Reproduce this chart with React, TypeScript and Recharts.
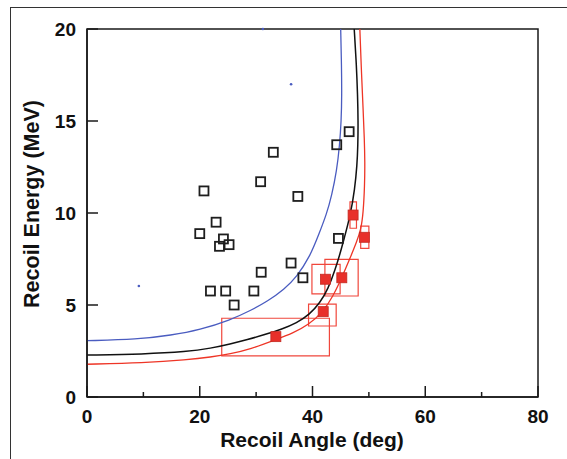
import { ComposedChart, Line, Scatter, ReferenceArea, XAxis, YAxis } from 'recharts';

// open squares (angle deg, energy MeV)
const openAngle = [33.05, 30.8, 20.75, 37.4, 22.9, 20.0, 24.2, 23.5, 25.2, 36.2, 30.9, 38.3, 21.9, 24.6, 29.6, 26.1, 46.5, 44.3, 44.6];
const openEnergy = [13.3, 11.7, 11.2, 10.9, 9.5, 8.88, 8.59, 8.19, 8.28, 7.28, 6.78, 6.48, 5.76, 5.76, 5.76, 5.0, 14.42, 13.71, 8.62];

// filled squares with error boxes
const fillAngle = [33.5, 41.9, 42.3, 45.2, 47.2, 49.2];
const fillEnergy = [3.28, 4.64, 6.4, 6.48, 9.89, 8.68];
const boxAngleLo = [23.9, 39.3, 39.9, 42.2, 46.65, 48.55];
const boxAngleHi = [43.0, 44.2, 44.9, 48.1, 47.8, 50.0];
const boxEnergyLo = [2.24, 3.86, 5.6, 5.49, 9.17, 8.08];
const boxEnergyHi = [4.28, 5.05, 7.21, 7.48, 10.61, 9.29];

// stray small dots
const dotAngle = [36.2, 9.2, 31.2];
const dotEnergy = [17.0, 6.03, 20.0];

// kinematic curves
const blueAngle = [0, 8.9, 15, 20, 25.4, 29.2, 32, 35, 37.2, 39.5, 41.2, 42.5, 43.4, 44.3, 44.8, 45.1, 45.2, 45.15, 45.0];
const blueEnergy = [3.06, 3.13, 3.36, 3.65, 4.18, 4.73, 5.2, 5.85, 6.54, 7.6, 8.9, 9.95, 10.94, 12.3, 13.66, 15.0, 16.4, 18.0, 20.0];
const blackAngle = [0, 10, 17.7, 22, 25.4, 28.5, 31.3, 34.5, 37.2, 39.5, 41.3, 42.8, 44.0, 44.9, 45.6, 46.7, 47.5, 47.9, 48.05, 48.1, 48.0, 47.8, 47.4];
const blackEnergy = [2.28, 2.33, 2.46, 2.65, 2.88, 3.12, 3.37, 3.68, 4.02, 4.5, 5.1, 5.9, 6.9, 7.8, 8.6, 9.85, 11.3, 12.6, 13.66, 15.0, 16.4, 18.0, 20.0];
const redAngle = [0, 10, 17.7, 22, 25.4, 29, 33.5, 36.5, 39.3, 41.9, 43.6, 45.2, 46.6, 47.8, 48.6, 49.0, 49.25, 49.3, 49.2, 49.0, 48.7, 48.4];
const redEnergy = [1.78, 1.86, 2.02, 2.17, 2.34, 2.6, 3.12, 3.47, 3.92, 4.64, 5.45, 6.48, 7.5, 8.4, 9.1, 10.0, 11.5, 12.76, 14.0, 15.5, 17.5, 20.0];

const xTicks = [0, 10, 20, 30, 40, 50, 60, 70, 80];
const yTicks = [0, 5, 10, 15, 20];

const pts = (xs: number[], ys: number[]) => xs.map((x, i) => ({ x, y: ys[i] }));

const openData = pts(openAngle, openEnergy);
const fillData = pts(fillAngle, fillEnergy);
const dotData = pts(dotAngle, dotEnergy);
const blueData = pts(blueAngle, blueEnergy);
const blackData = pts(blackAngle, blackEnergy);
const redData = pts(redAngle, redEnergy);

const FONT = '"Liberation Sans", Arial, Helvetica, sans-serif';
const AX = '#1a1a1a';

const XTick = (p: any) => {
  const v = p.payload.value;
  const major = v % 20 === 0;
  return (
    <g>
      <line x1={p.x} x2={p.x} y1={p.y} y2={p.y - (major ? 11 : 5)} stroke={AX} strokeWidth={1.5} />
      {major && (
        <text x={p.x} y={p.y + 26} textAnchor="middle" fontSize={19} fontWeight="bold" fontFamily={FONT} fill="#111">
          {v}
        </text>
      )}
    </g>
  );
};

const YTick = (p: any) => {
  const v = p.payload.value;
  return (
    <g>
      <line x1={p.x} x2={p.x + 11} y1={p.y} y2={p.y} stroke={AX} strokeWidth={1.5} />
      <text x={p.x - 11} y={p.y + 7} textAnchor="end" fontSize={19} fontWeight="bold" fontFamily={FONT} fill="#111">
        {v}
      </text>
    </g>
  );
};

const OpenSquare = (p: any) => (
  <rect x={p.cx - 4.5} y={p.cy - 4.5} width={9} height={9} fill="none" stroke="#1e1e1e" strokeWidth={1.8} />
);

const FilledSquare = (p: any) => (
  <rect x={p.cx - 5} y={p.cy - 5} width={10} height={10} fill="#e8302a" stroke="#c42a22" strokeWidth={0.8} />
);

const Dot = (p: any) => <circle cx={p.cx} cy={p.cy} r={1.3} fill="#4a5cc0" />;

export default function App() {
  return (
    <div style={{ position: 'absolute', left: 0, top: 0, width: 567, height: 459, background: '#fff' }}>
      <div
        style={{
          position: 'absolute',
          left: 10,
          top: 7,
          width: 557,
          height: 452,
          borderTop: '1.5px solid #333',
          borderLeft: '1.5px solid #333',
          boxSizing: 'border-box',
        }}
      />
      <ComposedChart width={567} height={459} margin={{ top: 29, right: 29, left: 0, bottom: 0 }} style={{ position: 'absolute', left: 0, top: 0 }}>
        <XAxis
          type="number"
          dataKey="x"
          domain={[0, 80]}
          ticks={xTicks}
          interval={0}
          height={62}
          tickSize={0}
          tickMargin={0}
          tickLine={false}
          axisLine={{ stroke: AX, strokeWidth: 1.5 }}
          tick={<XTick />}
          label={{
            content: () => (
              <text x={312} y={447} textAnchor="middle" fontSize={21} fontWeight="bold" fontFamily={FONT} fill="#111">
                Recoil Angle (deg)
              </text>
            ),
          }}
        />
        <YAxis
          type="number"
          dataKey="y"
          domain={[0, 20]}
          ticks={yTicks}
          interval={0}
          width={87}
          tickSize={0}
          tickMargin={0}
          tickLine={false}
          axisLine={{ stroke: AX, strokeWidth: 1.5 }}
          tick={<YTick />}
          label={{
            content: () => (
              <text
                x={39}
                y={204}
                textAnchor="middle"
                fontSize={21.5}
                fontWeight="bold"
                fontFamily={FONT}
                fill="#111"
                transform="rotate(-90 39 204)"
              >
                Recoil Energy (MeV)
              </text>
            ),
          }}
        />
        <ReferenceArea x1={0} x2={80} y1={0} y2={20} fill="none" stroke={AX} strokeWidth={1.5} />
        {boxAngleLo.map((lo, i) => (
          <ReferenceArea
            key={i}
            x1={lo}
            x2={boxAngleHi[i]}
            y1={boxEnergyLo[i]}
            y2={boxEnergyHi[i]}
            fill="none"
            stroke="#f0473c"
            strokeWidth={1.2}
          />
        ))}
        <Line data={blueData} dataKey="y" type="basis" stroke="#4a5cc0" strokeWidth={1.3} dot={false} isAnimationActive={false} />
        <Line data={blackData} dataKey="y" type="basis" stroke="#111" strokeWidth={1.5} dot={false} isAnimationActive={false} />
        <Line data={redData} dataKey="y" type="basis" stroke="#ee3526" strokeWidth={1.3} dot={false} isAnimationActive={false} />
        <Scatter data={openData} dataKey="y" shape={<OpenSquare />} isAnimationActive={false} />
        <Scatter data={fillData} dataKey="y" shape={<FilledSquare />} isAnimationActive={false} />
        <Scatter data={dotData} dataKey="y" shape={<Dot />} isAnimationActive={false} />
      </ComposedChart>
    </div>
  );
}
